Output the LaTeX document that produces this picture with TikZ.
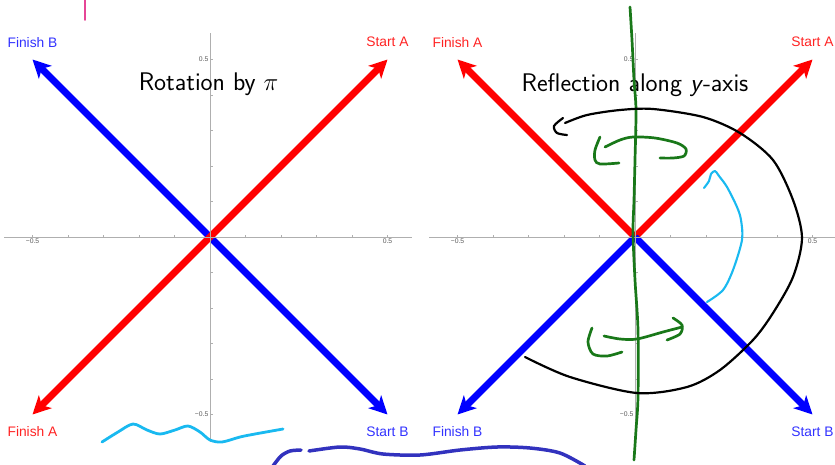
\documentclass[tikz,border=0pt]{standalone}
\usepackage{fontspec}
\usepackage{tikz}
\usetikzlibrary{arrows.meta}
\newfontfamily\plotfont{Liberation Sans}
\definecolor{vecred}{RGB}{255,0,0}
\definecolor{vecblue}{RGB}{0,0,255}
\definecolor{lblred}{RGB}{255,35,35}
\definecolor{lblblue}{RGB}{50,50,255}
\definecolor{axisgray}{RGB}{175,175,175}
\definecolor{inkpink}{RGB}{230,70,150}
\definecolor{inksky}{RGB}{25,185,240}
\definecolor{inknavy}{RGB}{50,50,190}
\definecolor{inkgreen}{RGB}{25,120,25}
\newcommand{\plotaxes}{%
	\draw[axisline] (-0.58,0) -- (0.57,0);
	\draw[axisline] (0,-0.577) -- (0,0.575);
	\foreach \t in {-0.5,-0.4,...,0.51} {
		\draw[axisline] (\t,0) -- ++(0pt,2.5pt);
		\draw[axisline] (0,\t) -- ++(2.5pt,0pt);
	}
	\node[ticklbl, below] at (-0.5,0) {−0.5};
	\node[ticklbl, below] at (0.5,0) {0.5};
	\node[ticklbl, left] at (0,0.5) {0.5};
	\node[ticklbl, left] at (0,-0.5) {−0.5};
}

\begin{document}
\begin{tikzpicture}[x=1pt, y=-1pt,
		vecA/.style={vecred, line width=6.8pt, -{Stealth[length=18pt, width=18pt, inset=5pt]}},
		vecB/.style={vecblue, line width=6.8pt, -{Stealth[length=18pt, width=18pt, inset=5pt]}},
		axisline/.style={axisgray, line width=0.8pt},
		ticklbl/.style={font=\plotfont\fontsize{6.8}{7}\selectfont, text=black!65, inner sep=1.5pt},
		lblA/.style={font=\plotfont\fontsize{13.8}{16}\selectfont, text=lblred},
		lblB/.style={font=\plotfont\fontsize{13.8}{16}\selectfont, text=lblblue},
		plottitle/.style={font=\sffamily\fontsize{25.5}{30}\selectfont},
		ink/.style={line cap=round, line join=round}]
	\useasboundingbox (0,0) rectangle (835,464);
	
	% Left plot: rotation
	\begin{scope}[shift={(210,237)}, x=355pt, y=355pt]
		\coordinate (oL) at (0,0);
		\coordinate (saL) at (0.5,0.5);
		\coordinate (faL) at (-0.5,-0.5);
		\coordinate (sbL) at (0.5,-0.5);
		\coordinate (fbL) at (-0.5,0.5);
		\draw[vecB] (oL) -- (fbL);
		\draw[vecB] (oL) -- (sbL);
		\draw[vecA] (oL) -- (saL);
		\draw[vecA] (oL) -- (faL);
		\plotaxes
		\node[lblB] (tFbL) at (-0.5,0.549) {Finish B};
		\node[lblA] (tSaL) at (0.5,0.549) {Start A};
		\node[lblA] (tFaL) at (-0.5,-0.549) {Finish A};
		\node[lblB] (tSbL) at (0.5,-0.549) {Start B};
		\node[plottitle] (titleL) at (-0.004,0.429) {Rotation by $\pi$};
	\end{scope}
	
	% Right plot: reflection
	\begin{scope}[shift={(635,237)}, x=355pt, y=355pt]
		\coordinate (oR) at (0,0);
		\coordinate (saR) at (0.5,0.5);
		\coordinate (faR) at (-0.5,0.5);
		\coordinate (sbR) at (0.5,-0.5);
		\coordinate (fbR) at (-0.5,-0.5);
		\draw[vecA] (oR) -- (faR);
		\draw[vecA] (oR) -- (saR);
		\draw[vecB] (oR) -- (fbR);
		\draw[vecB] (oR) -- (sbR);
		\plotaxes
		\node[lblA] (tFaR) at (-0.5,0.549) {Finish A};
		\node[lblA] (tSaR) at (0.5,0.549) {Start A};
		\node[lblB] (tFbR) at (-0.5,-0.549) {Finish B};
		\node[lblB] (tSbR) at (0.5,-0.549) {Start B};
		\node[plottitle] (titleR) at (0,0.429) {Reflection along \textit{y}-axis};
	\end{scope}
	
	% Hand-drawn ink
	\draw[ink, inkpink, line width=1.8pt] (85,-2) -- (85,20);
	\draw[ink, inksky, line width=2.8pt] plot[smooth] coordinates {(102,442) (118,432) (133,424) (147,430) (160,434) (175,430) (188,426) (200,432) (210,440) (222,442) (240,437) (255,434) (283,429)};
	\draw[ink, inknavy, line width=3.5pt] plot[smooth] coordinates {(273,466) (281,456) (290,451) (301,450)};
	\draw[ink, inknavy, line width=3.5pt] plot[smooth] coordinates {(309,451) (340,447) (360,449) (383,454) (420,455) (460,450) (497,447) (530,448) (560,453) (585,466)};
	\draw[ink, inkgreen, line width=2.7pt] plot[smooth] coordinates {(630,7) (632,40) (634,80) (636,110) (635,160) (634,200) (633,233) (635,280) (638,330) (638,397) (636,430) (634,460)};
	\draw[ink, inkgreen, line width=2.7pt] plot[smooth] coordinates {(605,147) (620,140) (633,137) (655,138) (677,143) (686,149) (684,156) (673,158) (660,158)};
	\draw[ink, inkgreen, line width=2.7pt] plot[smooth] coordinates {(600,137) (595,150) (595,160) (600,164) (619,163)};
	\draw[ink, inkgreen, line width=2.7pt] plot[smooth] coordinates {(604,336) (620,339) (637,339) (663,332) (682,327)};
	\draw[ink, inkgreen, line width=2.7pt] plot[smooth] coordinates {(673,318) (682,325) (680,334) (667,340)};
	\draw[ink, inkgreen, line width=2.7pt] plot[smooth] coordinates {(592,328) (588,342) (593,354) (607,356) (622,352)};
	\draw[ink, black, line width=2.2pt] plot[smooth] coordinates {(525,357) (570,377) (637,393) (687,387) (720,370) (753,340) (773,313) (793,277) (802,238) (793,200) (773,160) (740,133) (703,117) (653,109) (620,110) (587,115) (565,123)};
	\draw[ink, black, line width=2.2pt] plot[smooth] coordinates {(563,118) (554,126) (557,133) (567,135)};
	\draw[ink, inksky, line width=2.1pt] plot[smooth] coordinates {(707,302) (723,290) (733,270) (742,240) (741,220) (737,207) (727,187) (719,176) (715,171) (711,174) (709,181) (704,188)};
\end{tikzpicture}
\end{document}
